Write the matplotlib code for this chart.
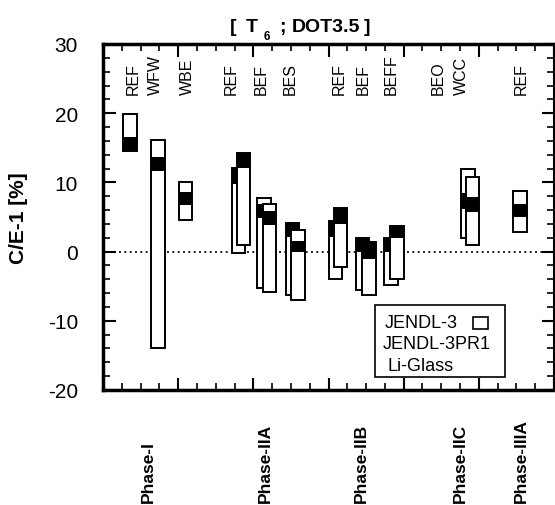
import matplotlib
matplotlib.use('Agg')
import matplotlib.pyplot as plt
from matplotlib.patches import Rectangle
from matplotlib.ticker import MultipleLocator
from matplotlib.transforms import blended_transform_factory

plt.rcParams['font.family'] = ['Liberation Sans', 'DejaVu Sans']
plt.rcParams['axes.unicode_minus'] = False

# one entry per bar: x centre, range of C/E-1 (open box) and black band
bar_x   = [1.43, 2.93, 4.39, 7.20, 7.49, 8.57, 8.86, 10.08, 10.37,
           12.36, 12.65, 13.81, 14.15, 15.33, 15.64, 19.43, 19.68, 22.19]
bar_lo  = [14.5, -14.0, 4.6, -0.2, 0.9, -5.3, -5.8, -6.3, -7.0,
           -3.9, -2.2, -5.6, -6.3, -4.9, -3.9, 2.0, 0.9, 2.8]
bar_hi  = [19.9, 16.1, 10.1, 12.1, 14.2, 7.7, 6.9, 4.1, 3.1,
           4.4, 6.3, 2.0, 1.4, 2.0, 3.7, 11.9, 10.8, 8.8]
band_lo = [14.5, 11.6, 6.7, 9.8, 12.1, 4.8, 3.8, 2.1, 0.0,
           2.1, 4.0, 0.0, -1.0, 0.0, 1.9, 6.2, 5.7, 5.0]
band_hi = [16.6, 13.7, 8.6, 12.1, 14.2, 6.9, 5.8, 4.1, 1.6,
           4.4, 6.3, 2.0, 1.4, 2.0, 3.7, 8.4, 7.9, 6.9]

case_labels = ['REF', 'WFW', 'WBE', 'REF', 'BEF', 'BES', 'REF', 'BEF', 'BEFF',
               'BEO', 'WCC', 'REF']
case_x = [1.59, 2.80, 4.50, 6.83, 8.41, 9.95, 12.59, 13.86, 15.34, 17.83, 19.05, 22.28]

phase_labels = ['Phase-I', 'Phase-IIA', 'Phase-IIB', 'Phase-IIC', 'Phase-IIIA']
phase_x = [2.43, 8.62, 13.76, 19.0, 22.28]

legend_labels = ['JENDL-3', 'JENDL-3PR1', 'Li-Glass']

fig = plt.figure(figsize=(5.55, 5.06), dpi=100)
ax = fig.add_axes([0.1856, 0.2273, 0.8126, 0.6838])

ax.axhline(0, color='black', lw=1.2, ls=(0, (1.2, 2.0)), zorder=1)

w = 0.71
for i in range(len(bar_x)):
    z = 2 + i * 0.1
    ax.bar(bar_x[i], bar_hi[i] - bar_lo[i], bottom=bar_lo[i], width=w,
           color='white', edgecolor='none', zorder=z)
    ax.bar(bar_x[i], band_hi[i] - band_lo[i], bottom=band_lo[i], width=w,
           color='black', edgecolor='none', zorder=z + 0.01)
    ax.bar(bar_x[i], bar_hi[i] - bar_lo[i], bottom=bar_lo[i], width=w,
           fill=False, edgecolor='black', lw=1.4, zorder=z + 0.02)

ax.set_xlim(0, 24)
ax.set_ylim(-20, 30)
ax.xaxis.set_major_locator(MultipleLocator(4))
ax.xaxis.set_minor_locator(MultipleLocator(1))
ax.yaxis.set_major_locator(MultipleLocator(10))
ax.yaxis.set_minor_locator(MultipleLocator(2))
ax.tick_params(which='both', direction='in', top=True, right=True,
               labelbottom=False, labelsize=15, pad=18)
ax.tick_params(which='major', length=9, width=1.5)
ax.tick_params(which='minor', length=5, width=1.2)
for s in ['left', 'top', 'bottom']:
    ax.spines[s].set_linewidth(2.5)
ax.spines['right'].set_linewidth(1.5)

ax.set_ylabel('C/E-1 [%]', fontsize=15, fontweight='bold')
ax.yaxis.set_label_coords(-0.166, 0.5)

for lab, x in zip(case_labels, case_x):
    ax.text(x, 22.8, lab, rotation=90, ha='center', va='bottom', fontsize=11.5)

trans = blended_transform_factory(ax.transData, fig.transFigure)
for lab, x in zip(phase_labels, phase_x):
    ax.text(x, 0.006, lab, rotation=90, ha='center', va='bottom',
            fontsize=12.5, fontweight='bold', transform=trans, clip_on=False)

# legend box drawn by hand (symbols for the last two entries are missing in the original)
ax.add_patch(Rectangle((0.603, 0.038), 0.288, 0.208, transform=ax.transAxes,
                       fill=False, edgecolor='black', lw=1.2, zorder=5))
leg_pos = [(0.625, 0.195), (0.621, 0.134), (0.630, 0.071)]
for lab, (lx, ly) in zip(legend_labels, leg_pos):
    ax.text(lx, ly, lab, transform=ax.transAxes, ha='left', va='center',
            fontsize=13, zorder=6)
ax.add_patch(Rectangle((0.820, 0.176), 0.034, 0.035, transform=ax.transAxes,
                       fill=False, edgecolor='black', lw=1.2, zorder=6))

# title pieces, subscript 6 sits well below the T as in the original
W, H = 555.0, 506.0
base = 1 - 32 / H
for piece, px in [('[', 230), ('T', 246), (';', 279), ('DOT3.5', 292), (']', 364)]:
    fig.text(px / W, base, piece, ha='left', va='baseline',
             fontsize=14, fontweight='bold')
fig.text(264 / W, 1 - 40 / H, '6', ha='left', va='baseline',
         fontsize=8.5, fontweight='bold')

fig.savefig('out.png', dpi=100)
